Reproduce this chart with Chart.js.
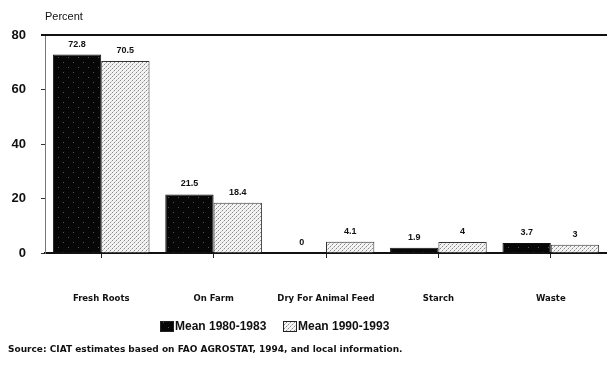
<!DOCTYPE html>
<html>
<head>
<meta charset="utf-8">
<script src="https://cdn.jsdelivr.net/npm/chart.js@4"></script>
<style>
  html, body { margin: 0; padding: 0; background: #fff; }
  #wrap { width: 607px; height: 365px; position: relative; }
</style>
</head>
<body>
<div id="wrap"><canvas id="c" width="607" height="365"></canvas></div>
<script>
// Cassava utilisation shares, percent
const categories = ['Fresh Roots', 'On Farm', 'Dry For Animal Feed', 'Starch', 'Waste'];
const mean1980_1983 = [72.8, 21.5, 0, 1.9, 3.7];
const mean1990_1993 = [70.5, 18.4, 4.1, 4, 3];
const seriesNames = ['Mean 1980-1983', 'Mean 1990-1993'];
const yTicks = [0, 20, 40, 60, 80];
const sourceNote = 'Source: CIAT estimates based on FAO AGROSTAT, 1994, and local information.';

const FONT = '"Liberation Sans", Arial, sans-serif';
const WIDE = '"DejaVu Sans", Verdana, sans-serif';

// Fill textures: dark mottled and light dotted cross-hatch
function darkTile() {
  const t = document.createElement('canvas');
  t.width = 10; t.height = 10;
  const g = t.getContext('2d');
  g.fillStyle = '#070707'; g.fillRect(0, 0, 10, 10);
  g.fillStyle = '#555';
  g.fillRect(3, 2, 1, 1); g.fillRect(8, 7, 1, 1);
  return g.createPattern(t, 'repeat');
}
function lightTile() {
  const t = document.createElement('canvas');
  t.width = 4; t.height = 4;
  const g = t.getContext('2d');
  g.fillStyle = '#f4f4f4'; g.fillRect(0, 0, 4, 4);
  g.fillStyle = '#8a8a8a';
  g.fillRect(0, 0, 1, 1); g.fillRect(2, 2, 1, 1);
  g.fillStyle = '#c4c4c4';
  g.fillRect(1, 3, 1, 1); g.fillRect(3, 1, 1, 1);
  return g.createPattern(t, 'repeat');
}
const darkFill = darkTile();
const lightFill = lightTile();

// Value labels above each bar
const valueLabels = {
  id: 'valueLabels',
  afterDatasetsDraw(chart) {
    const ctx = chart.ctx;
    ctx.save();
    ctx.font = 'bold 9px ' + FONT;
    ctx.fillStyle = '#111';
    ctx.textAlign = 'center';
    ctx.textBaseline = 'bottom';
    chart.data.datasets.forEach((ds, i) => {
      chart.getDatasetMeta(i).data.forEach((bar, j) => {
        ctx.fillText(String(ds.data[j]), bar.x, bar.y - 6);
      });
    });
    ctx.restore();
  }
};

// Top rule, axis title, legend row and source note
const extras = {
  id: 'extras',
  afterDraw(chart) {
    const ctx = chart.ctx;
    const a = chart.chartArea;
    ctx.save();
    ctx.strokeStyle = '#111';
    ctx.lineWidth = 2;
    ctx.beginPath();
    ctx.moveTo(a.left - 4, a.top);
    ctx.lineTo(chart.width, a.top);
    ctx.stroke();

    ctx.fillStyle = '#111';
    ctx.font = '11px ' + FONT;
    ctx.textAlign = 'left';
    ctx.textBaseline = 'middle';
    ctx.fillText('Percent', 45, 17);

    // legend
    ctx.font = 'bold 12px ' + FONT;
    const fills = [darkFill, lightFill];
    const xs = [160, 283];
    seriesNames.forEach((name, i) => {
      ctx.fillStyle = fills[i];
      ctx.fillRect(xs[i], 321, 14, 11);
      ctx.strokeStyle = '#222';
      ctx.lineWidth = 1;
      ctx.strokeRect(xs[i] + 0.5, 321.5, 13, 10);
      ctx.fillStyle = '#111';
      ctx.fillText(name, xs[i] + 15, 327);
    });

    ctx.font = 'bold 9px ' + WIDE;
    ctx.fillText(sourceNote, 8, 350);
    ctx.restore();
  }
};

new Chart(document.getElementById('c'), {
  type: 'bar',
  data: {
    labels: categories,
    datasets: [
      { label: seriesNames[0], data: mean1980_1983, backgroundColor: darkFill,
        borderColor: '#111', borderWidth: 1 },
      { label: seriesNames[1], data: mean1990_1993, backgroundColor: lightFill,
        borderColor: '#333', borderWidth: 1 }
    ]
  },
  options: {
    responsive: false,
    animation: false,
    layout: { padding: { top: 35, right: 0, left: 0, bottom: 0 } },
    plugins: { legend: { display: false }, tooltip: { enabled: false } },
    datasets: { bar: { categoryPercentage: 0.86, barPercentage: 1.0 } },
    scales: {
      x: {
        afterFit(s) { s.height = 112; },
        grid: { drawOnChartArea: false, tickLength: 5, color: '#222', offset: false },
        border: { color: '#111', width: 2 },
        ticks: { color: '#111', padding: 36, font: { family: WIDE, size: 8.5, weight: 'bold' }, maxRotation: 0, autoSkip: false }
      },
      y: {
        min: 0, max: 80,
        afterFit(s) { s.width = 45; },
        afterBuildTicks(s) { s.ticks = yTicks.map(v => ({ value: v })); },
        grid: { drawOnChartArea: false, tickLength: 4, color: '#333' },
        border: { color: '#777', width: 1, dash: [1, 2] },
        ticks: { color: '#111', padding: 15, font: { family: FONT, size: 13, weight: 'bold' } }
      }
    }
  },
  plugins: [valueLabels, extras]
});
</script>
</body>
</html>
